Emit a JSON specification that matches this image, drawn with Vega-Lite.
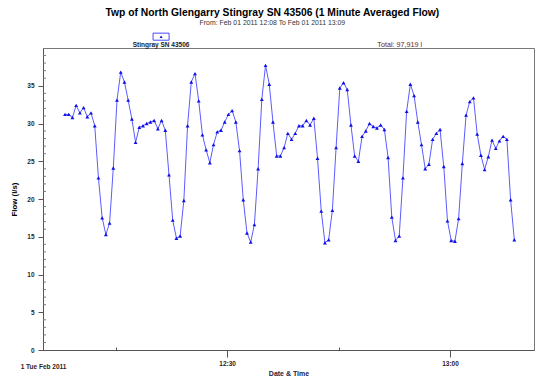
{
  "$schema": "https://vega.github.io/schema/vega-lite/v6.json",
  "autosize": {"type": "none"},
  "padding": {"left": 43, "top": 48, "right": 7, "bottom": 28},
  "width": 491,
  "height": 302,
  "background": "white",
  "config": {
    "font": "Liberation Sans",
    "view": {"stroke": "#777", "strokeWidth": 1}
  },
  "title": {
    "text": "Twp of North Glengarry Stingray SN 43506 (1 Minute Averaged Flow)",
    "subtitle": "From: Feb 01 2011 12:08 To Feb 01 2011 13:09",
    "fontSize": 10.3,
    "fontWeight": "bold",
    "color": "#000",
    "subtitleFontSize": 6.9,
    "subtitleColor": "#333",
    "subtitlePadding": 2,
    "anchor": "middle",
    "frame": "bounds",
    "offset": 5
  },
  "layer": [
    {
      "data": {"values": [
        {"t": "2011-02-01T12:08:10", "flow": 31.2},
        {"t": "2011-02-01T12:08:40", "flow": 31.2},
        {"t": "2011-02-01T12:09:10", "flow": 30.8},
        {"t": "2011-02-01T12:09:40", "flow": 32.4},
        {"t": "2011-02-01T12:10:10", "flow": 31.4},
        {"t": "2011-02-01T12:10:40", "flow": 32.1},
        {"t": "2011-02-01T12:11:10", "flow": 30.9},
        {"t": "2011-02-01T12:11:40", "flow": 31.4},
        {"t": "2011-02-01T12:12:10", "flow": 29.7},
        {"t": "2011-02-01T12:12:40", "flow": 22.8},
        {"t": "2011-02-01T12:13:10", "flow": 17.5},
        {"t": "2011-02-01T12:13:40", "flow": 15.3},
        {"t": "2011-02-01T12:14:10", "flow": 16.8},
        {"t": "2011-02-01T12:14:40", "flow": 24.1},
        {"t": "2011-02-01T12:15:10", "flow": 33.1},
        {"t": "2011-02-01T12:15:40", "flow": 36.8},
        {"t": "2011-02-01T12:16:10", "flow": 35.5},
        {"t": "2011-02-01T12:16:40", "flow": 33.1},
        {"t": "2011-02-01T12:17:10", "flow": 30.6},
        {"t": "2011-02-01T12:17:40", "flow": 27.5},
        {"t": "2011-02-01T12:18:10", "flow": 29.5},
        {"t": "2011-02-01T12:18:40", "flow": 29.7},
        {"t": "2011-02-01T12:19:10", "flow": 30.0},
        {"t": "2011-02-01T12:19:40", "flow": 30.2},
        {"t": "2011-02-01T12:20:10", "flow": 30.4},
        {"t": "2011-02-01T12:20:40", "flow": 29.3},
        {"t": "2011-02-01T12:21:10", "flow": 30.4},
        {"t": "2011-02-01T12:21:40", "flow": 29.1},
        {"t": "2011-02-01T12:22:10", "flow": 23.2},
        {"t": "2011-02-01T12:22:40", "flow": 17.2},
        {"t": "2011-02-01T12:23:10", "flow": 14.8},
        {"t": "2011-02-01T12:23:40", "flow": 15.1},
        {"t": "2011-02-01T12:24:10", "flow": 19.8},
        {"t": "2011-02-01T12:24:40", "flow": 29.7},
        {"t": "2011-02-01T12:25:10", "flow": 35.5},
        {"t": "2011-02-01T12:25:40", "flow": 36.6},
        {"t": "2011-02-01T12:26:10", "flow": 33.0},
        {"t": "2011-02-01T12:26:40", "flow": 28.5},
        {"t": "2011-02-01T12:27:10", "flow": 26.5},
        {"t": "2011-02-01T12:27:40", "flow": 24.8},
        {"t": "2011-02-01T12:28:10", "flow": 27.2},
        {"t": "2011-02-01T12:28:40", "flow": 28.9},
        {"t": "2011-02-01T12:29:10", "flow": 29.1},
        {"t": "2011-02-01T12:29:40", "flow": 30.2},
        {"t": "2011-02-01T12:30:10", "flow": 31.2},
        {"t": "2011-02-01T12:30:40", "flow": 31.7},
        {"t": "2011-02-01T12:31:10", "flow": 30.2},
        {"t": "2011-02-01T12:31:40", "flow": 26.4},
        {"t": "2011-02-01T12:32:10", "flow": 19.9},
        {"t": "2011-02-01T12:32:40", "flow": 15.5},
        {"t": "2011-02-01T12:33:10", "flow": 14.3},
        {"t": "2011-02-01T12:33:40", "flow": 16.6},
        {"t": "2011-02-01T12:34:10", "flow": 24.0},
        {"t": "2011-02-01T12:34:40", "flow": 33.2},
        {"t": "2011-02-01T12:35:10", "flow": 37.7},
        {"t": "2011-02-01T12:35:40", "flow": 35.2},
        {"t": "2011-02-01T12:36:10", "flow": 30.2},
        {"t": "2011-02-01T12:36:40", "flow": 25.7},
        {"t": "2011-02-01T12:37:10", "flow": 25.7},
        {"t": "2011-02-01T12:37:40", "flow": 26.8},
        {"t": "2011-02-01T12:38:10", "flow": 28.7},
        {"t": "2011-02-01T12:38:40", "flow": 27.9},
        {"t": "2011-02-01T12:39:10", "flow": 28.7},
        {"t": "2011-02-01T12:39:40", "flow": 29.7},
        {"t": "2011-02-01T12:40:10", "flow": 29.7},
        {"t": "2011-02-01T12:40:40", "flow": 30.4},
        {"t": "2011-02-01T12:41:10", "flow": 29.8},
        {"t": "2011-02-01T12:41:40", "flow": 30.7},
        {"t": "2011-02-01T12:42:10", "flow": 25.4},
        {"t": "2011-02-01T12:42:40", "flow": 18.4},
        {"t": "2011-02-01T12:43:10", "flow": 14.2},
        {"t": "2011-02-01T12:43:40", "flow": 14.6},
        {"t": "2011-02-01T12:44:10", "flow": 18.5},
        {"t": "2011-02-01T12:44:40", "flow": 26.8},
        {"t": "2011-02-01T12:45:10", "flow": 34.7},
        {"t": "2011-02-01T12:45:40", "flow": 35.4},
        {"t": "2011-02-01T12:46:10", "flow": 34.5},
        {"t": "2011-02-01T12:46:40", "flow": 29.8},
        {"t": "2011-02-01T12:47:10", "flow": 25.7},
        {"t": "2011-02-01T12:47:40", "flow": 25.0},
        {"t": "2011-02-01T12:48:10", "flow": 28.3},
        {"t": "2011-02-01T12:48:40", "flow": 29.0},
        {"t": "2011-02-01T12:49:10", "flow": 30.0},
        {"t": "2011-02-01T12:49:40", "flow": 29.6},
        {"t": "2011-02-01T12:50:10", "flow": 29.4},
        {"t": "2011-02-01T12:50:40", "flow": 29.8},
        {"t": "2011-02-01T12:51:10", "flow": 29.2},
        {"t": "2011-02-01T12:51:40", "flow": 25.5},
        {"t": "2011-02-01T12:52:10", "flow": 17.6},
        {"t": "2011-02-01T12:52:40", "flow": 14.5},
        {"t": "2011-02-01T12:53:10", "flow": 15.1},
        {"t": "2011-02-01T12:53:40", "flow": 22.8},
        {"t": "2011-02-01T12:54:10", "flow": 31.6},
        {"t": "2011-02-01T12:54:40", "flow": 35.2},
        {"t": "2011-02-01T12:55:10", "flow": 33.7},
        {"t": "2011-02-01T12:55:40", "flow": 30.2},
        {"t": "2011-02-01T12:56:10", "flow": 27.2},
        {"t": "2011-02-01T12:56:40", "flow": 24.0},
        {"t": "2011-02-01T12:57:10", "flow": 24.6},
        {"t": "2011-02-01T12:57:40", "flow": 27.9},
        {"t": "2011-02-01T12:58:10", "flow": 28.7},
        {"t": "2011-02-01T12:58:40", "flow": 29.2},
        {"t": "2011-02-01T12:59:10", "flow": 24.3},
        {"t": "2011-02-01T12:59:40", "flow": 17.1},
        {"t": "2011-02-01T13:00:10", "flow": 14.5},
        {"t": "2011-02-01T13:00:40", "flow": 14.4},
        {"t": "2011-02-01T13:01:10", "flow": 17.4},
        {"t": "2011-02-01T13:01:40", "flow": 24.7},
        {"t": "2011-02-01T13:02:10", "flow": 31.1},
        {"t": "2011-02-01T13:02:40", "flow": 32.9},
        {"t": "2011-02-01T13:03:10", "flow": 33.4},
        {"t": "2011-02-01T13:03:40", "flow": 28.6},
        {"t": "2011-02-01T13:04:10", "flow": 25.8},
        {"t": "2011-02-01T13:04:40", "flow": 23.9},
        {"t": "2011-02-01T13:05:10", "flow": 25.6},
        {"t": "2011-02-01T13:05:40", "flow": 27.8},
        {"t": "2011-02-01T13:06:10", "flow": 26.7},
        {"t": "2011-02-01T13:06:40", "flow": 27.7},
        {"t": "2011-02-01T13:07:10", "flow": 28.3},
        {"t": "2011-02-01T13:07:40", "flow": 27.9},
        {"t": "2011-02-01T13:08:10", "flow": 19.9},
        {"t": "2011-02-01T13:08:40", "flow": 14.6}
      ]},
      "layer": [
        {
          "mark": {"type": "line", "color": "#5c5cff", "strokeWidth": 1},
          "encoding": {
            "x": {
              "field": "t", "type": "temporal",
              "scale": {"domain": [
                {"year": 2011, "month": 2, "date": 1, "hours": 12, "minutes": 5, "seconds": 12},
                {"year": 2011, "month": 2, "date": 1, "hours": 13, "minutes": 11, "seconds": 19}
              ]},
              "axis": {
                "title": "Date & Time",
                "titleFontSize": 7,
                "titleFontWeight": "bold",
                "titleColor": "#222244",
                "titlePadding": 0,
                "values": [
                  {"year": 2011, "month": 2, "date": 1, "hours": 12, "minutes": 5, "seconds": 12},
                  {"year": 2011, "month": 2, "date": 1, "hours": 12, "minutes": 15},
                  {"year": 2011, "month": 2, "date": 1, "hours": 12, "minutes": 30},
                  {"year": 2011, "month": 2, "date": 1, "hours": 12, "minutes": 45},
                  {"year": 2011, "month": 2, "date": 1, "hours": 13, "minutes": 0}
                ],
                "labelExpr": "minutes(datum.value) == 5 ? '1 Tue Feb 2011' : (minutes(datum.value) % 30 == 0 ? timeFormat(datum.value, '%H:%M') : '')",
                "labelFlush": false,
                "labelOverlap": false,
                "labelFontSize": 6.5,
                "labelFontWeight": "bold",
                "labelColor": "#331a1a",
                "labelPadding": {"condition": {"test": "minutes(datum.value) == 5", "value": 13}, "value": 3},
                "tickSize": {"condition": [
                  {"test": "minutes(datum.value) == 5", "value": 0},
                  {"test": "minutes(datum.value) % 30 != 0", "value": -3}
                ], "value": 7},
                "tickColor": "#555",
                "domainColor": "#555",
                "grid": false
              }
            },
            "y": {
              "field": "flow", "type": "quantitative",
              "scale": {"domain": [0, 40], "nice": false},
              "axis": {
                "title": "Flow (l/s)",
                "titleFontSize": 7.8,
                "titleFontWeight": "bold",
                "titleColor": "#000",
                "titlePadding": 8,
                "values": [0, 5, 10, 15, 20, 25, 30, 35],
                "labelOverlap": false,
                "labelFontSize": 6.5,
                "labelFontWeight": "bold",
                "labelColor": "#1f2a1a",
                "labelPadding": 4,
                "tickSize": 5,
                "tickColor": "#555",
                "domainColor": "#555",
                "grid": false
              }
            }
          }
        },
        {
          "mark": {"type": "point", "shape": "triangle-up", "filled": true, "color": "#1010e8", "size": 15, "opacity": 1},
          "encoding": {
            "x": {"field": "t", "type": "temporal"},
            "y": {"field": "flow", "type": "quantitative"}
          }
        }
      ]
    },
    {
      "data": {"values": [
        {"v": 1}, {"v": 2}, {"v": 3}, {"v": 4}, {"v": 6}, {"v": 7}, {"v": 8}, {"v": 9},
        {"v": 11}, {"v": 12}, {"v": 13}, {"v": 14}, {"v": 16}, {"v": 17}, {"v": 18}, {"v": 19},
        {"v": 21}, {"v": 22}, {"v": 23}, {"v": 24}, {"v": 26}, {"v": 27}, {"v": 28}, {"v": 29},
        {"v": 31}, {"v": 32}, {"v": 33}, {"v": 34}, {"v": 36}, {"v": 37}, {"v": 38}, {"v": 39}
      ]},
      "mark": {"type": "rule", "color": "#777", "strokeWidth": 1},
      "encoding": {
        "x": {"datum": {"year": 2011, "month": 2, "date": 1, "hours": 12, "minutes": 5, "seconds": 12}, "type": "temporal"},
        "x2": {"datum": {"year": 2011, "month": 2, "date": 1, "hours": 12, "minutes": 5, "seconds": 36}},
        "y": {"field": "v", "type": "quantitative"}
      }
    },
    {
      "data": {"values": [{"label": "Stingray SN 43506"}]},
      "layer": [
        {
          "mark": {"type": "point", "shape": "M-1,-0.44L1,-0.44L1,0.44L-1,0.44Z", "filled": false, "fill": "white", "stroke": "#4a4aff", "strokeWidth": 1, "size": 256, "opacity": 1},
          "encoding": {
            "x": {"datum": {"year": 2011, "month": 2, "date": 1, "hours": 12, "minutes": 21, "seconds": 6}, "type": "temporal"},
            "y": {"datum": 41.5, "type": "quantitative"}
          }
        },
        {
          "mark": {"type": "point", "shape": "triangle-up", "filled": true, "color": "#1010c0", "size": 9, "opacity": 1},
          "encoding": {
            "x": {"datum": {"year": 2011, "month": 2, "date": 1, "hours": 12, "minutes": 21, "seconds": 6}, "type": "temporal"},
            "y": {"datum": 41.5, "type": "quantitative"}
          }
        },
        {
          "mark": {"type": "text", "fontSize": 6.5, "fontWeight": "bold", "color": "#222", "align": "center", "baseline": "middle"},
          "encoding": {
            "x": {"datum": {"year": 2011, "month": 2, "date": 1, "hours": 12, "minutes": 21, "seconds": 6}, "type": "temporal"},
            "y": {"datum": 40.35, "type": "quantitative"},
            "text": {"field": "label"}
          }
        }
      ]
    },
    {
      "data": {"values": [{"label": "Total: 97,919 l"}]},
      "mark": {"type": "text", "fontSize": 7.2, "color": "#6b1a1a", "align": "center", "baseline": "middle"},
      "encoding": {
        "x": {"datum": {"year": 2011, "month": 2, "date": 1, "hours": 12, "minutes": 53, "seconds": 14}, "type": "temporal"},
        "y": {"datum": 40.35, "type": "quantitative"},
        "text": {"field": "label"}
      }
    }
  ]
}
